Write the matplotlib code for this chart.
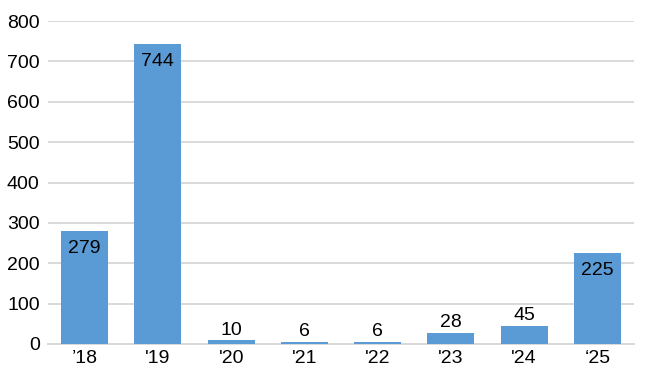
import matplotlib
matplotlib.use("Agg")
import matplotlib.pyplot as plt

categories = ["\u201918", "'19", "'20", "'21", "'22", "'23", "'24", "\u201825"]
values = [279, 744, 10, 6, 6, 28, 45, 225]
yticks = [0, 100, 200, 300, 400, 500, 600, 700, 800]

plt.rcParams['font.family'] = ['Liberation Sans', 'DejaVu Sans']

fig = plt.figure(figsize=(6.49, 3.73), dpi=100)
ax = fig.add_axes([48/649, 1 - 344/373, 586/649, (344-21)/373])

x = list(range(len(categories)))
bars = ax.bar(x, values, width=0.64, color='#5B9BD5', zorder=3)

for xi, v in zip(x, values):
    if v > 100:
        ax.annotate(str(v), (xi, v), xytext=(0, -6.5), textcoords='offset points',
                    ha='center', va='top', fontsize=14, color='black', zorder=4)
    else:
        ax.annotate(str(v), (xi, v), xytext=(0, 1), textcoords='offset points',
                    ha='center', va='bottom', fontsize=14, color='black', zorder=4)

ax.set_xlim(-0.5, len(categories) - 0.5)
ax.set_ylim(0, 800)
ax.set_yticks(yticks)
ax.set_yticklabels([str(t) for t in yticks], fontsize=14)
ax.set_xticks(x)
ax.set_xticklabels(categories, fontsize=14)
ax.yaxis.grid(True, color='#D9D9D9', linewidth=1.4, zorder=0)
for s in ['top', 'right', 'left']:
    ax.spines[s].set_visible(False)
ax.spines['bottom'].set_color('#D9D9D9')
ax.spines['bottom'].set_linewidth(1.4)
ax.tick_params(axis='y', length=0, pad=6)
ax.tick_params(axis='x', length=0, pad=4)

fig.savefig('out.png', dpi=100)
